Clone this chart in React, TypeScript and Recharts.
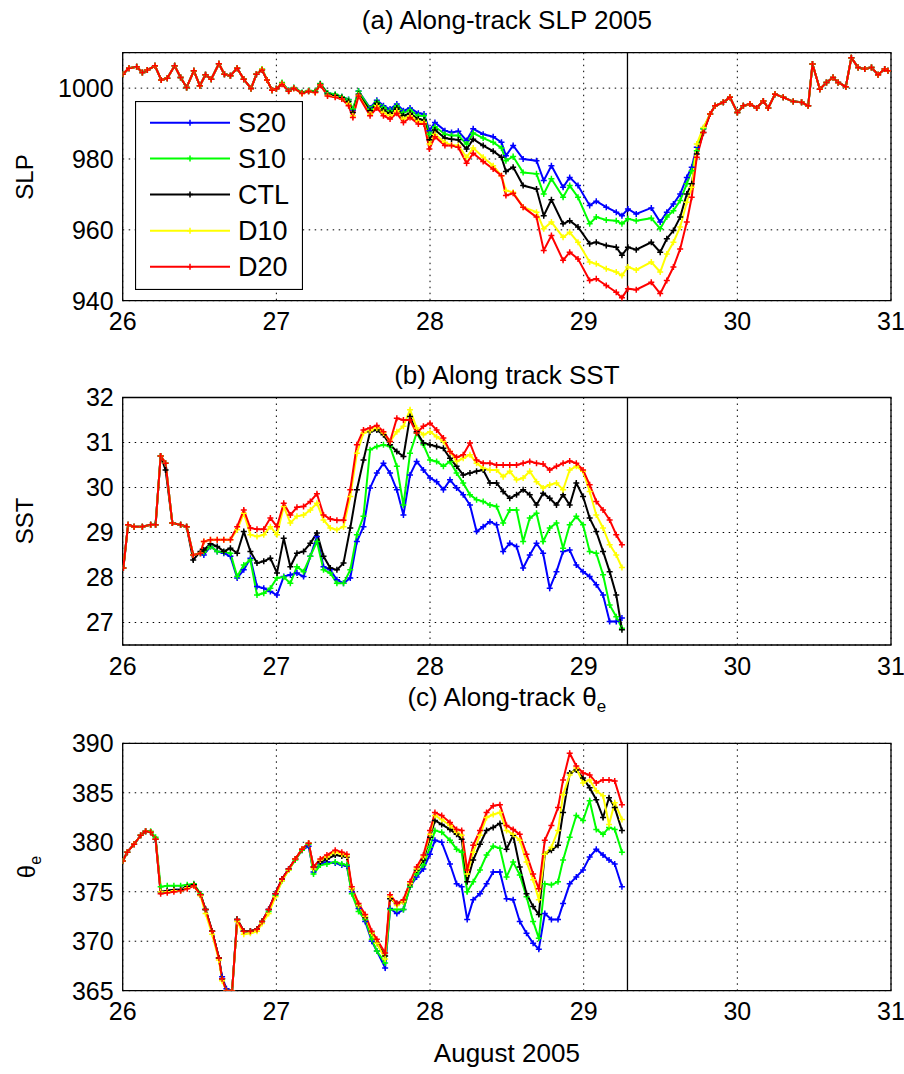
import React from 'react';
import { LineChart, Line, XAxis, YAxis, CartesianGrid, ReferenceLine, ReferenceArea } from 'recharts';

const FONT = '"Liberation Sans", Arial, Helvetica, sans-serif';

const seriesNames = ['S20', 'S10', 'CTL', 'D10', 'D20'];
const seriesKeys = ['s20', 's10', 'ctl', 'd10', 'd20'];
const seriesColors = ['#0000ff', '#00ff00', '#000000', '#ffff00', '#ff0000'];

const dayTicks = [26, 27, 28, 29, 30, 31];
const slpTicks = [940, 960, 980, 1000];
const sstTicks = [27, 28, 29, 30, 31, 32];
const thetaTicks = [365, 370, 375, 380, 385, 390];
const landfallDay = 29.285;

// ---------- (a) SLP ----------
const slpTimeEarly = [26.000, 26.041, 26.091, 26.128, 26.160, 26.210, 26.251, 26.290, 26.338, 26.377, 26.416, 26.463, 26.502, 26.539, 26.576, 26.626, 26.662, 26.701, 26.745, 26.788, 26.835];
const slpEarly = [1003.9, 1005.6, 1006.0, 1004.4, 1005.1, 1006.3, 1002.3, 1002.8, 1006.3, 1003.0, 1000.2, 1004.9, 1000.7, 1003.8, 1002.5, 1006.9, 1003.9, 1003.5, 1005.6, 1002.5, 999.9];

const slpTimeMid = [26.870, 26.907, 26.939, 26.972, 27.000, 27.037, 27.080, 27.113, 27.167, 27.210, 27.253, 27.286, 27.333, 27.383, 27.426, 27.470, 27.498, 27.535, 27.610, 27.654, 27.697, 27.740, 27.784, 27.827, 27.870, 27.924, 27.961, 27.996, 28.032, 28.097, 28.140, 28.184, 28.238, 28.281, 28.346, 28.411, 28.465, 28.494, 28.541, 28.606, 28.693, 28.740, 28.790, 28.866, 28.909, 28.963, 29.039, 29.082, 29.147, 29.212, 29.249, 29.288, 29.342, 29.440, 29.498, 29.541, 29.584, 29.628, 29.671, 29.703, 29.736, 29.779];
const slpS20Mid = [1003.9, 1005.3, 1002.3, 999.4, 999.8, 1001.4, 999.3, 1000.1, 998.7, 999.2, 999.0, 1001.2, 998.6, 998.1, 997.6, 996.8, 993.8, 999.2, 994.4, 996.6, 995.0, 994.1, 995.5, 993.6, 994.4, 992.9, 992.7, 988.0, 990.3, 988.0, 987.5, 987.8, 985.2, 988.5, 987.0, 986.3, 984.7, 980.9, 983.8, 980.0, 979.5, 973.9, 978.1, 972.0, 974.8, 972.5, 966.9, 968.1, 966.4, 965.0, 964.0, 965.9, 964.5, 966.2, 962.2, 965.0, 967.3, 970.1, 974.8, 977.7, 983.3, 988.5];
const slpS10Mid = [1003.9, 1005.4, 1002.3, 999.4, 999.8, 1001.6, 999.3, 1000.2, 998.8, 999.3, 999.1, 1001.3, 998.6, 998.3, 997.6, 996.7, 994.1, 999.1, 994.1, 996.2, 994.6, 993.6, 995.0, 993.1, 993.8, 992.2, 992.2, 987.0, 989.1, 987.0, 986.6, 986.6, 984.2, 987.3, 985.9, 984.7, 983.1, 979.5, 980.7, 976.2, 975.8, 970.1, 974.4, 969.2, 972.5, 969.2, 961.7, 963.6, 962.8, 962.6, 961.7, 963.1, 962.6, 963.3, 960.3, 963.6, 965.4, 968.3, 973.0, 976.7, 982.3, 988.5];
const slpCtlMid = [1003.9, 1005.2, 1002.3, 999.4, 999.8, 1001.3, 999.2, 1000.0, 998.6, 999.1, 998.9, 1001.0, 998.3, 997.9, 997.3, 996.2, 993.1, 998.3, 993.6, 995.7, 993.8, 992.9, 994.4, 992.2, 992.9, 991.3, 991.0, 985.4, 988.2, 985.9, 985.6, 985.4, 982.8, 985.6, 983.8, 982.2, 980.5, 976.5, 977.7, 972.5, 971.5, 964.0, 968.5, 961.7, 962.6, 960.8, 956.1, 956.5, 955.6, 955.1, 952.8, 955.1, 954.4, 956.5, 953.7, 957.5, 959.8, 963.6, 970.1, 973.0, 981.4, 987.5];
const slpD10Mid = [1003.9, 1005.3, 1002.3, 999.4, 999.8, 1001.3, 999.1, 1000.0, 998.5, 999.1, 998.8, 1000.9, 998.0, 997.6, 997.0, 995.6, 992.2, 998.0, 992.7, 995.0, 993.1, 992.2, 993.6, 991.3, 992.2, 990.6, 990.3, 984.2, 987.0, 984.7, 983.9, 983.8, 980.5, 983.1, 980.5, 978.1, 975.3, 971.1, 970.6, 966.4, 965.0, 960.3, 962.2, 957.9, 959.3, 956.5, 950.9, 950.4, 949.0, 948.1, 947.1, 949.5, 948.7, 950.9, 948.1, 953.2, 956.5, 960.8, 967.8, 972.0, 984.2, 988.9];
const slpD20Mid = [1003.9, 1005.1, 1002.3, 999.4, 999.8, 1001.1, 999.1, 1000.0, 998.5, 999.1, 998.8, 1000.9, 997.8, 997.4, 996.9, 995.0, 991.7, 997.8, 992.2, 994.4, 992.2, 991.3, 992.9, 990.3, 991.7, 989.9, 989.9, 982.8, 986.3, 983.8, 983.8, 983.3, 978.8, 981.6, 979.3, 977.2, 975.3, 969.7, 970.3, 966.4, 963.6, 954.2, 958.4, 951.4, 953.7, 951.8, 945.7, 946.2, 944.3, 942.4, 940.8, 943.4, 943.1, 945.2, 942.0, 945.7, 949.5, 954.6, 962.2, 969.2, 980.5, 987.5];

const slpTimeLate = [29.823, 29.855, 29.909, 29.952, 30.000, 30.039, 30.082, 30.126, 30.169, 30.201, 30.245, 30.299, 30.364, 30.418, 30.461, 30.489, 30.537, 30.580, 30.623, 30.656, 30.706, 30.742, 30.786, 30.829, 30.873, 30.916, 30.959, 30.980];
const slpLate = [992.7, 995.0, 996.0, 997.4, 993.1, 995.0, 995.5, 994.4, 996.4, 994.4, 998.3, 997.4, 996.2, 996.0, 995.0, 1006.8, 999.7, 1001.6, 1003.0, 1001.6, 1000.4, 1008.6, 1005.8, 1005.4, 1005.8, 1003.8, 1005.4, 1004.9];

// ---------- (b) SST ----------
const sstTime = [26.004, 26.035, 26.074, 26.128, 26.182, 26.214, 26.247, 26.279, 26.323, 26.377, 26.416, 26.459, 26.506,
  26.528, 26.571, 26.615, 26.658, 26.701, 26.745, 26.788, 26.831, 26.874, 26.918, 26.961, 27.004, 27.048, 27.091, 27.134, 27.177, 27.221, 27.264, 27.307, 27.351, 27.394, 27.437, 27.481, 27.524, 27.567,
  27.610, 27.654, 27.697, 27.740, 27.784, 27.827, 27.870, 27.913, 27.957, 28.000, 28.043, 28.087, 28.130, 28.173, 28.216, 28.260, 28.303, 28.346, 28.390, 28.433, 28.476, 28.519, 28.563, 28.606, 28.649, 28.693, 28.736, 28.779, 28.823, 28.866, 28.909, 28.952, 28.996, 29.039, 29.082, 29.126, 29.169, 29.212, 29.249];
const sstStart = [28.21, 29.17, 29.13, 29.13, 29.17, 29.17, 30.70, 30.54, 29.21, 29.17, 29.13, 28.50, 28.54];
const sstCtlStart = [28.21, 29.17, 29.13, 29.13, 29.17, 29.17, 30.70, 30.39, 29.21, 29.17, 29.13, 28.39, 28.58];
const sstS20 = [28.50, 28.69, 28.58, 28.54, 28.47, 27.99, 28.17, 28.43, 27.80, 27.76, 27.69, 27.61, 28.02, 28.06, 28.10, 28.02, 28.47, 28.91, 28.24, 28.17, 27.95, 27.87, 27.99, 28.80, 29.13,
  29.99, 30.32, 30.54, 30.32, 29.95, 29.39, 30.28, 30.58, 30.39, 30.21, 30.13, 29.95, 30.17, 29.99, 29.84, 29.61, 29.02, 29.13, 29.24, 29.17, 28.58, 28.76, 28.69, 28.21, 28.50, 28.76, 28.54, 27.76, 28.13, 28.58, 28.61, 28.28, 28.13, 28.02, 27.84, 27.61, 27.02, 27.02, 27.10];
const sstS10 = [28.56, 28.69, 28.58, 28.56, 28.54, 28.02, 28.28, 28.39, 27.61, 27.65, 27.76, 27.99, 28.01, 27.87, 28.24, 28.13, 28.47, 28.80, 28.17, 28.10, 27.87, 27.87, 28.17, 28.95, 29.36,
  30.84, 30.91, 30.95, 30.91, 30.47, 29.61, 30.76, 31.21, 30.95, 30.61, 30.58, 30.47, 30.58, 30.32, 30.10, 29.84, 29.73, 29.69, 29.61, 29.58, 29.21, 29.50, 29.50, 28.80, 29.32, 29.43, 28.80, 29.10, 29.21, 28.65, 29.17, 29.36, 29.17, 28.58, 28.54, 28.06, 27.39, 27.13, 26.87];
const sstCtl = [28.61, 28.75, 28.69, 28.58, 28.65, 28.54, 29.02, 28.58, 28.32, 28.36, 28.43, 28.10, 28.87, 28.24, 28.54, 28.58, 28.76, 28.99, 28.47, 28.21, 28.17, 28.32, 29.10, 29.95, 30.61,
  31.24, 31.28, 31.17, 30.95, 30.80, 30.69, 31.58, 31.24, 30.99, 30.95, 30.91, 30.87, 30.65, 30.47, 30.28, 30.32, 30.36, 30.39, 30.10, 30.10, 29.91, 29.76, 29.84, 29.95, 29.84, 29.61, 29.87, 29.76, 29.61, 29.84, 29.61, 30.10, 29.80, 29.32, 29.02, 28.58, 28.13, 27.61, 26.84];
const sstD10 = [28.80, 28.84, 28.84, 28.84, 28.84, 29.06, 29.43, 28.95, 28.91, 28.95, 29.13, 28.95, 29.58, 29.21, 29.36, 29.39, 29.50, 29.65, 29.28, 29.10, 29.06, 29.13, 29.80, 30.76, 31.21,
  31.26, 31.32, 31.21, 31.02, 31.24, 31.36, 31.73, 31.32, 31.17, 31.24, 31.13, 31.02, 30.80, 30.58, 30.65, 30.73, 30.54, 30.43, 30.39, 30.39, 30.24, 30.36, 30.17, 30.21, 30.36, 30.13, 29.99, 30.06, 30.10, 29.95, 30.39, 30.47, 30.36, 29.91, 29.39, 29.10, 28.73, 28.50, 28.22];
const sstD20 = [28.80, 28.84, 28.84, 28.84, 28.84, 29.13, 29.50, 29.10, 29.07, 29.07, 29.32, 29.13, 29.65, 29.39, 29.56, 29.58, 29.69, 29.86, 29.39, 29.30, 29.27, 29.27, 29.95, 30.95, 31.28,
  31.32, 31.38, 31.24, 31.02, 31.54, 31.50, 31.50, 31.21, 31.36, 31.43, 31.28, 31.10, 30.80, 30.67, 30.73, 30.99, 30.61, 30.54, 30.54, 30.50, 30.50, 30.50, 30.50, 30.54, 30.58, 30.54, 30.52, 30.39, 30.47, 30.54, 30.59, 30.54, 30.39, 30.06, 29.69, 29.50, 29.28, 28.95, 28.73];

// ---------- (c) theta_e ----------
const thTime = [26.000, 26.030, 26.074, 26.117, 26.149, 26.182, 26.214, 26.247, 26.290, 26.333, 26.377, 26.420, 26.463, 26.506, 26.539, 26.582, 26.626, 26.647, 26.675, 26.712, 26.745, 26.788, 26.831, 26.874, 26.907, 26.950, 26.994, 27.037, 27.080, 27.123, 27.167, 27.210,
  27.242, 27.286, 27.329, 27.383, 27.426, 27.459, 27.491, 27.535, 27.578, 27.621, 27.654, 27.708, 27.740, 27.784, 27.827, 27.870, 27.913, 27.957, 28.000, 28.032, 28.076, 28.130, 28.173, 28.206, 28.242, 28.281, 28.325, 28.368, 28.411, 28.455, 28.498, 28.541, 28.584, 28.628, 28.671, 28.708, 28.747, 28.790, 28.833, 28.866, 28.909, 28.952, 28.996, 29.039, 29.082, 29.126, 29.165, 29.202, 29.249];
const thS20Start = [378.1, 379.0, 379.8, 380.7, 381.1, 381.0, 380.3, 375.0, 375.1, 375.2, 375.2, 375.5, 375.7, 374.7, 373.2, 371.0, 368.3, 366.4, 365.2, 365.0, 372.2, 371.0, 371.0, 371.2, 372.0, 373.2, 374.8, 376.3, 377.3, 378.3, 379.2, 379.6];
const thS10Start = [378.1, 379.0, 379.8, 380.7, 381.1, 381.1, 380.5, 375.5, 375.6, 375.6, 375.6, 375.7, 375.8, 374.8, 373.2, 371.0, 368.3, 366.2, 365.0, 365.0, 372.2, 371.0, 371.0, 371.2, 372.0, 373.0, 374.6, 376.1, 377.2, 378.2, 379.2, 379.8];
const thCtlStart = [378.1, 379.0, 379.8, 380.7, 381.1, 381.0, 380.3, 375.0, 375.1, 375.2, 375.2, 375.5, 375.7, 374.7, 373.2, 371.0, 368.3, 366.2, 365.0, 365.0, 372.2, 371.0, 371.0, 371.2, 372.0, 373.2, 374.8, 376.3, 377.3, 378.3, 379.3, 379.9];
const thD10Start = [378.1, 379.0, 379.8, 380.7, 381.1, 381.0, 380.3, 375.0, 375.0, 375.1, 375.1, 375.4, 375.6, 374.6, 372.8, 370.7, 368.1, 366.0, 365.0, 365.0, 372.0, 370.7, 370.8, 371.0, 371.8, 372.8, 374.5, 376.1, 377.2, 378.3, 379.3, 379.9];
const thD20Start = [378.1, 379.0, 379.8, 380.7, 381.1, 381.0, 380.3, 374.8, 374.9, 375.0, 375.1, 375.3, 375.6, 374.7, 373.2, 371.0, 368.3, 366.2, 365.0, 365.0, 372.2, 371.0, 371.0, 371.2, 372.0, 373.2, 374.8, 376.3, 377.3, 378.3, 379.3, 379.9];
const thS20 = [377.0, 377.8, 378.0, 377.9, 377.7, 377.6, 375.0, 373.3, 372.0, 370.0, 369.0, 367.3, 373.3, 372.8, 373.2, 375.5, 376.5, 377.3, 378.8, 380.2, 380.0, 377.8, 375.8, 375.5, 372.2, 374.2, 374.8, 375.8, 377.0, 377.0, 374.3, 374.2, 372.0, 370.8, 369.8, 369.2, 372.8, 372.2, 372.2, 373.8, 375.8, 376.5, 377.2, 378.5, 379.3, 378.7, 378.2, 377.8, 375.5];
const thS10 = [376.8, 377.7, 377.8, 378.0, 377.8, 377.7, 374.8, 373.0, 372.2, 370.2, 369.0, 367.8, 373.2, 373.2, 373.2, 375.5, 376.8, 377.7, 379.5, 381.2, 381.0, 380.2, 379.3, 379.0, 375.0, 376.0, 377.2, 378.7, 379.6, 379.4, 376.5, 378.0, 376.7, 374.5, 372.0, 370.3, 375.8, 375.7, 376.0, 378.2, 380.5, 382.7, 382.2, 384.2, 381.3, 380.8, 381.5, 381.3, 379.0];
const thCtl = [377.5, 378.0, 378.3, 378.7, 378.6, 378.5, 375.3, 373.6, 372.4, 370.8, 369.8, 368.5, 374.3, 373.8, 374.0, 375.7, 377.2, 378.2, 380.5, 382.2, 381.8, 381.3, 380.8, 380.3, 376.0, 378.2, 379.8, 381.2, 381.5, 381.9, 379.3, 380.7, 377.5, 374.8, 373.5, 372.7, 378.8, 379.2, 379.7, 383.0, 387.0, 387.3, 386.5, 385.5, 384.3, 382.5, 384.5, 383.5, 381.2];
const thD10 = [377.3, 378.2, 378.5, 379.0, 378.8, 378.6, 375.3, 373.6, 372.5, 370.8, 369.8, 368.2, 374.5, 373.6, 374.0, 375.8, 377.3, 378.5, 380.8, 382.7, 382.3, 381.7, 381.0, 380.7, 376.8, 379.0, 380.7, 382.5, 382.8, 383.0, 381.2, 380.8, 380.2, 378.0, 376.2, 374.2, 378.8, 379.5, 381.2, 384.8, 386.8, 387.5, 386.0, 386.3, 385.2, 384.7, 381.8, 384.0, 382.3];
const thD20 = [377.5, 378.3, 378.7, 379.2, 379.0, 378.8, 375.5, 373.8, 372.7, 371.0, 370.2, 368.8, 374.7, 373.8, 374.2, 376.0, 377.5, 378.7, 381.2, 383.0, 382.7, 382.0, 381.3, 381.2, 377.2, 379.7, 381.2, 383.0, 383.7, 383.8, 381.7, 381.3, 380.8, 378.8, 376.8, 375.3, 380.2, 381.7, 383.5, 386.3, 389.0, 387.7, 387.0, 386.8, 386.0, 386.3, 386.3, 386.2, 383.8];

// ---------- build tables ----------
function buildRows(times: number[], series: number[][]) {
  return times.map((t, i) => {
    const row: any = { t };
    seriesKeys.forEach((k, j) => { row[k] = series[j][i]; });
    return row;
  });
}

const slpTimes = [...slpTimeEarly, ...slpTimeMid, ...slpTimeLate];
const slpRows = buildRows(slpTimes, [
  [...slpEarly, ...slpS20Mid, ...slpLate],
  [...slpEarly, ...slpS10Mid, ...slpLate],
  [...slpEarly, ...slpCtlMid, ...slpLate],
  [...slpEarly, ...slpD10Mid, ...slpLate],
  [...slpEarly, ...slpD20Mid, ...slpLate],
]);

const sstRows = buildRows(sstTime, [
  [...sstStart, ...sstS20],
  [...sstStart, ...sstS10],
  [...sstCtlStart, ...sstCtl],
  [...sstStart, ...sstD10],
  [...sstStart, ...sstD20],
]);

const thRows = buildRows(thTime, [
  [...thS20Start, ...thS20],
  [...thS10Start, ...thS10],
  [...thCtlStart, ...thCtl],
  [...thD10Start, ...thD10],
  [...thD20Start, ...thD20],
]);

// ---------- layout ----------
const PLOT_LEFT = 122.7;
const PLOT_RIGHT = 891;
const CHART_W = 904;
const CHART_H = 340;
const XAXIS_H = 36;
const TICK_FONT = 25;
const TITLE_FONT = 26;

const makeDot = (color: string) => (props: any) => {
  const { cx, cy, index } = props;
  if (cx == null || cy == null || isNaN(cx) || isNaN(cy)) return <g key={`e${index}`} />;
  const s = 3;
  return (
    <path
      key={`d${index}`}
      d={`M${cx - s},${cy}H${cx + s}M${cx},${cy - s}V${cy + s}`}
      stroke={color}
      strokeWidth={1.5}
      fill="none"
    />
  );
};

function Panel(props: {
  chartTop: number;
  plotTop: number;
  plotBottom: number;
  rows: any[];
  yDomain: [number, number];
  yTicks: number[];
}) {
  const { chartTop, plotTop, plotBottom, rows, yDomain, yTicks } = props;
  const margin = {
    top: plotTop - chartTop,
    right: CHART_W - PLOT_RIGHT,
    left: 0,
    bottom: chartTop + CHART_H - plotBottom - XAXIS_H,
  };
  return (
    <div style={{ position: 'absolute', left: 0, top: chartTop, width: CHART_W, height: CHART_H }}>
      <LineChart width={CHART_W} height={CHART_H} data={rows} margin={margin}>
        <CartesianGrid stroke="#000" strokeWidth={1} strokeDasharray="1.5 4.5" />
        <XAxis
          dataKey="t"
          type="number"
          domain={[26, 31]}
          ticks={dayTicks}
          allowDataOverflow
          interval={0}
          height={XAXIS_H}
          axisLine={false}
          tickLine={false}
          tickSize={0}
          tickMargin={12}
          tick={{ fontSize: TICK_FONT, fill: '#000', fontFamily: FONT }}
        />
        <YAxis
          type="number"
          domain={yDomain}
          ticks={yTicks}
          allowDataOverflow
          interval={0}
          width={PLOT_LEFT}
          axisLine={false}
          tickLine={false}
          tickSize={0}
          tickMargin={9}
          tick={{ fontSize: TICK_FONT, fill: '#000', fontFamily: FONT }}
        />
        {seriesKeys.map((k, i) => (
          <Line
            key={k}
            dataKey={k}
            type="linear"
            stroke={seriesColors[i]}
            strokeWidth={2}
            dot={makeDot(seriesColors[i])}
            activeDot={false}
            isAnimationActive={false}
            connectNulls={false}
          />
        ))}
        <ReferenceLine x={landfallDay} stroke="#000" strokeWidth={1.3} />
        <ReferenceArea x1={26} x2={31} y1={yDomain[0]} y2={yDomain[1]} fill="none" fillOpacity={0} stroke="#000" strokeWidth={1.3} />
      </LineChart>
    </div>
  );
}

const textBase: React.CSSProperties = {
  position: 'absolute',
  fontFamily: FONT,
  color: '#000',
  whiteSpace: 'nowrap',
  textAlign: 'center',
};

function CenterText(p: { cx: number; cy: number; size: number; children: React.ReactNode; rotate?: boolean }) {
  const w = 600;
  return (
    <div
      style={{
        ...textBase,
        left: p.cx - w / 2,
        top: p.cy - p.size / 2,
        width: w,
        height: p.size,
        fontSize: p.size,
        lineHeight: `${p.size}px`,
        transform: p.rotate ? 'rotate(-90deg)' : undefined,
      }}
    >
      {p.children}
    </div>
  );
}

function LegendBox() {
  const left = 135;
  const top = 101;
  const w = 167;
  const h = 188;
  const rowY = [21.7, 57.5, 93.5, 129.7, 165.7];
  return (
    <svg style={{ position: 'absolute', left, top }} width={w + 1} height={h + 1}>
      <rect x={0.5} y={0.5} width={w} height={h} fill="#fff" stroke="#000" strokeWidth={1.2} />
      {seriesNames.map((name, i) => (
        <g key={name}>
          <line x1={15} x2={95} y1={rowY[i]} y2={rowY[i]} stroke={seriesColors[i]} strokeWidth={2} />
          <path d={`M${52},${rowY[i]}H${58}M55,${rowY[i] - 3}V${rowY[i] + 3}`} stroke={seriesColors[i]} strokeWidth={1.5} />
          <text x={103} y={rowY[i]} dy="0.36em" fontSize={27} fontFamily={FONT} fill="#000">
            {name}
          </text>
        </g>
      ))}
    </svg>
  );
}

export default function App() {
  const midX = (PLOT_LEFT + PLOT_RIGHT) / 2;
  return (
    <div style={{ position: 'absolute', left: 0, top: 0, width: 904, height: 1074, background: '#fff', overflow: 'hidden' }}>
      <Panel chartTop={0} plotTop={52.7} plotBottom={300.7} rows={slpRows} yDomain={[940, 1010]} yTicks={slpTicks} />
      <Panel chartTop={350} plotTop={397.5} plotBottom={645} rows={sstRows} yDomain={[26.5, 32]} yTicks={sstTicks} />
      <Panel chartTop={700} plotTop={743.3} plotBottom={990.7} rows={thRows} yDomain={[365, 390]} yTicks={thetaTicks} />

      <CenterText cx={midX} cy={20} size={TITLE_FONT}>(a) Along-track SLP 2005</CenterText>
      <CenterText cx={midX} cy={375} size={TITLE_FONT}>(b) Along track SST</CenterText>
      <CenterText cx={midX} cy={697} size={TITLE_FONT}>
        (c) Along-track θ<sub style={{ fontSize: 17, verticalAlign: '-6px' }}>e</sub>
      </CenterText>
      <CenterText cx={midX} cy={1053} size={TITLE_FONT}>August 2005</CenterText>

      <CenterText cx={25} cy={176.7} size={24} rotate>SLP</CenterText>
      <CenterText cx={25} cy={521} size={24} rotate>SST</CenterText>
      <CenterText cx={27} cy={867} size={24} rotate>
        θ<sub style={{ fontSize: 16, verticalAlign: '-6px' }}>e</sub>
      </CenterText>

      <LegendBox />
    </div>
  );
}
